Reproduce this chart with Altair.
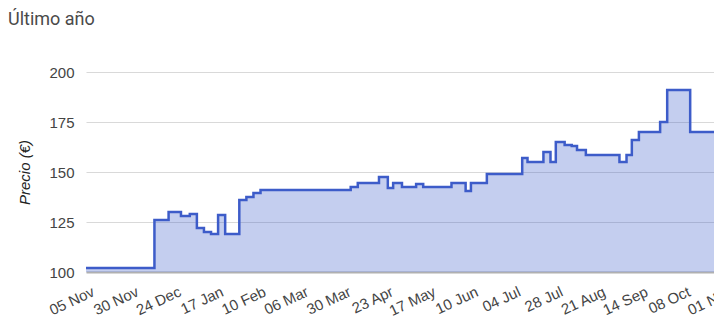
import altair as alt
import pandas as pd

# Price change dates and the price from that date on (step-after)
change_dates = [
    "2022-11-03", "2022-12-12", "2022-12-20", "2022-12-27", "2023-01-01",
    "2023-01-05", "2023-01-09", "2023-01-13", "2023-01-17", "2023-01-21",
    "2023-01-29", "2023-02-02", "2023-02-06", "2023-02-10", "2023-04-02",
    "2023-04-06", "2023-04-18", "2023-04-23", "2023-04-26", "2023-05-01",
    "2023-05-09", "2023-05-13", "2023-05-29", "2023-06-06", "2023-06-09",
    "2023-06-18", "2023-07-08", "2023-07-11", "2023-07-20", "2023-07-24",
    "2023-07-27", "2023-08-01", "2023-08-05", "2023-08-08", "2023-08-13",
    "2023-09-01", "2023-09-05", "2023-09-08", "2023-09-12", "2023-09-24",
    "2023-09-28", "2023-10-11", "2023-10-28", "2023-11-08",
]
prices = [
    102, 126, 130, 128, 129,
    122, 120, 119, 128.5, 119,
    136, 137.5, 139.5, 141, 142.5,
    144.5, 147.5, 142, 144.5, 142.5,
    144, 142.5, 144.5, 140.5, 144.5,
    149, 157, 155, 160, 155,
    165, 163.5, 163, 161, 158.5,
    155, 158.5, 166, 170, 175,
    191, 170, 100, 100,
]

tick_dates = [
    (2022, 11, 5), (2022, 11, 30), (2022, 12, 24), (2023, 1, 17),
    (2023, 2, 10), (2023, 3, 6), (2023, 3, 30), (2023, 4, 23),
    (2023, 5, 17), (2023, 6, 10), (2023, 7, 4), (2023, 7, 28),
    (2023, 8, 21), (2023, 9, 14), (2023, 10, 8), (2023, 11, 1),
]
y_ticks = [100, 125, 150, 175, 200]

df = pd.DataFrame({"fecha": [d + "T00:00:00" for d in change_dates], "precio": prices})

LINE = "#3D5CC9"
FONT = "Liberation Sans"

x_enc = alt.X(
    "fecha:T",
    scale=alt.Scale(domain=[alt.DateTime(year=2022, month=11, date=3, hours=7),
                            alt.DateTime(year=2023, month=11, date=5, hours=22)]),
    axis=alt.Axis(
        values=[alt.DateTime(year=y, month=m, date=d) for (y, m, d) in tick_dates],
        format="%d %b", labelAngle=-25, labelAlign="right", labelBaseline="top",
        labelPadding=12, labelOffset=1, ticks=False, grid=False,
        domainColor="#b0b0b0", domainWidth=2,
        labelFont=FONT, labelFontSize=15, labelColor="#444444",
        labelOverlap=False, labelFlush=False, title=None,
    ),
)
y_enc = alt.Y(
    "precio:Q",
    scale=alt.Scale(domain=[100, 200], zero=False, nice=False),
    axis=alt.Axis(
        values=y_ticks, title="Precio (€)", titleFont=FONT, titleFontStyle="italic",
        titleFontSize=15, titleFontWeight="normal", titleColor="#222222", titlePadding=16,
        labelFont=FONT, labelFontSize=15, labelColor="#444444", labelPadding=12,
        ticks=False, domain=False, gridColor="#d9d9d9", gridWidth=1,
    ),
)

area = alt.Chart(df).mark_area(interpolate="step-after", color=LINE, opacity=0.3, clip=True).encode(
    x=x_enc, y=y_enc, y2=alt.datum(100)
)
line = alt.Chart(df).mark_line(interpolate="step-after", color=LINE, strokeWidth=2.5, clip=True).encode(
    x=x_enc, y=y_enc
)

chart = alt.layer(area, line).properties(
    width=650, height=200,
    padding={"left": 78, "top": 64, "right": -22, "bottom": 46},
    autosize=alt.AutoSizeParams(type="none"),
    title=alt.TitleParams(
        "Último año", anchor="start", frame="group", dx=-78, offset=36,
        font="Roboto", fontSize=18, fontWeight="normal", color="#4a4a4a",
    ),
).configure_view(stroke=None)

chart.save("out.html", embed_options={"renderer": "svg", "actions": False})
